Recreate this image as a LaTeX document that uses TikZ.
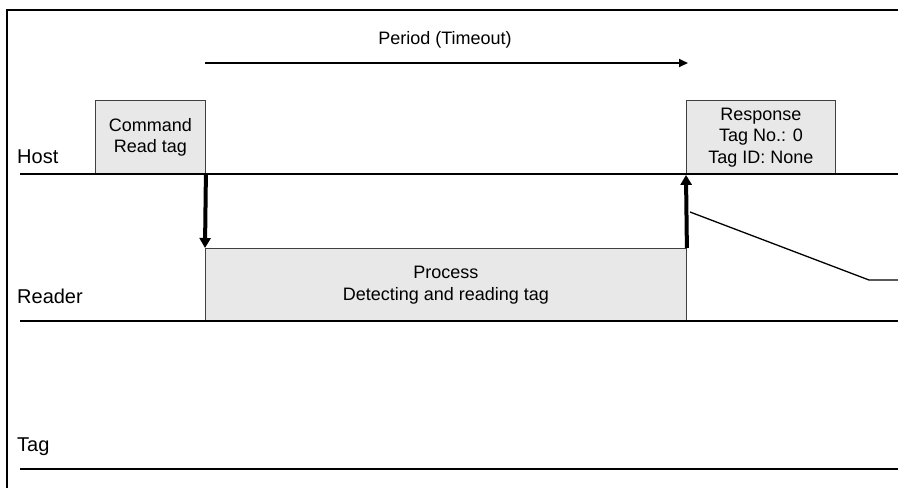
\documentclass[tikz,border=0pt]{standalone}
\usepackage{fontspec}
\setmainfont{Liberation Sans}
\usetikzlibrary{arrows.meta,positioning}
\definecolor{boxgray}{HTML}{E8E8E8}
\tikzset{
  stepbox/.style={draw=black!75,fill=boxgray,line width=0.9pt,inner sep=0pt,align=center,anchor=north west,font=\fontsize{18}{21.5}\selectfont},
  lanelabel/.style={inner sep=0pt,anchor=base west,font=\fontsize{20}{24}\selectfont},
  laneline/.style={line width=1.8pt},
  thinline/.style={line width=1.3pt},
  sigarrow/.style={-{Triangle[length=10pt,width=11pt]},line width=4pt},
  periodarrow/.style={-{Triangle[length=9pt,width=8pt]},line width=2pt},
}

\begin{document}
\begin{tikzpicture}[x=1pt,y=-1pt]
  \useasboundingbox (0,0) rectangle (898,488);
  % boxes
  \node[stepbox,minimum width=110pt,minimum height=74pt] (cmd) at (95,100) {Command\\Read tag};
  \node[stepbox,minimum width=481pt,minimum height=73pt] (proc) at (205,248) {Process\\Detecting and reading tag};
  \node[stepbox,minimum width=149pt,minimum height=74pt] (resp) at (686,100) {Response\\Tag No.: 0\\Tag ID: None};
  % lane labels
  \node[lanelabel] (lHost) at (17,163) {Host};
  \node[lanelabel] (lReader) at (17,303) {Reader};
  \node[lanelabel] (lTag) at (17,451) {Tag};
  % frame and lanes
  \coordinate (frA) at (7,488);
  \coordinate (frB) at (7,10);
  \coordinate (frC) at (898,10);
  \draw[laneline] (frA) -- (frB) -- (frC);
  \coordinate (hostA) at (20,174);
  \coordinate (hostB) at (898,174);
  \coordinate (readA) at (20,321);
  \coordinate (readB) at (898,321);
  \coordinate (tagA) at (20,469);
  \coordinate (tagB) at (898,469);
  \draw[laneline] (hostA) -- (hostB);
  \draw[laneline] (readA) -- (readB);
  \draw[laneline] (tagA) -- (tagB);
  % period
  \node[font=\fontsize{18}{21.5}\selectfont] (perLbl) at (445,40) {Period (Timeout)};
  \coordinate (perA) at (205,63);
  \coordinate (perB) at (688,63);
  \draw[periodarrow] (perA) -- (perB);
  % signals
  \draw[sigarrow] (cmd.south east) -- (proc.north west);
  \draw[sigarrow] (proc.north east) -- (resp.south west);
  \coordinate (slA) at (690,212);
  \coordinate (slB) at (869,280);
  \coordinate (slC) at (898,280);
  \draw[thinline] (slA) -- (slB) -- (slC);
\end{tikzpicture}
\end{document}
